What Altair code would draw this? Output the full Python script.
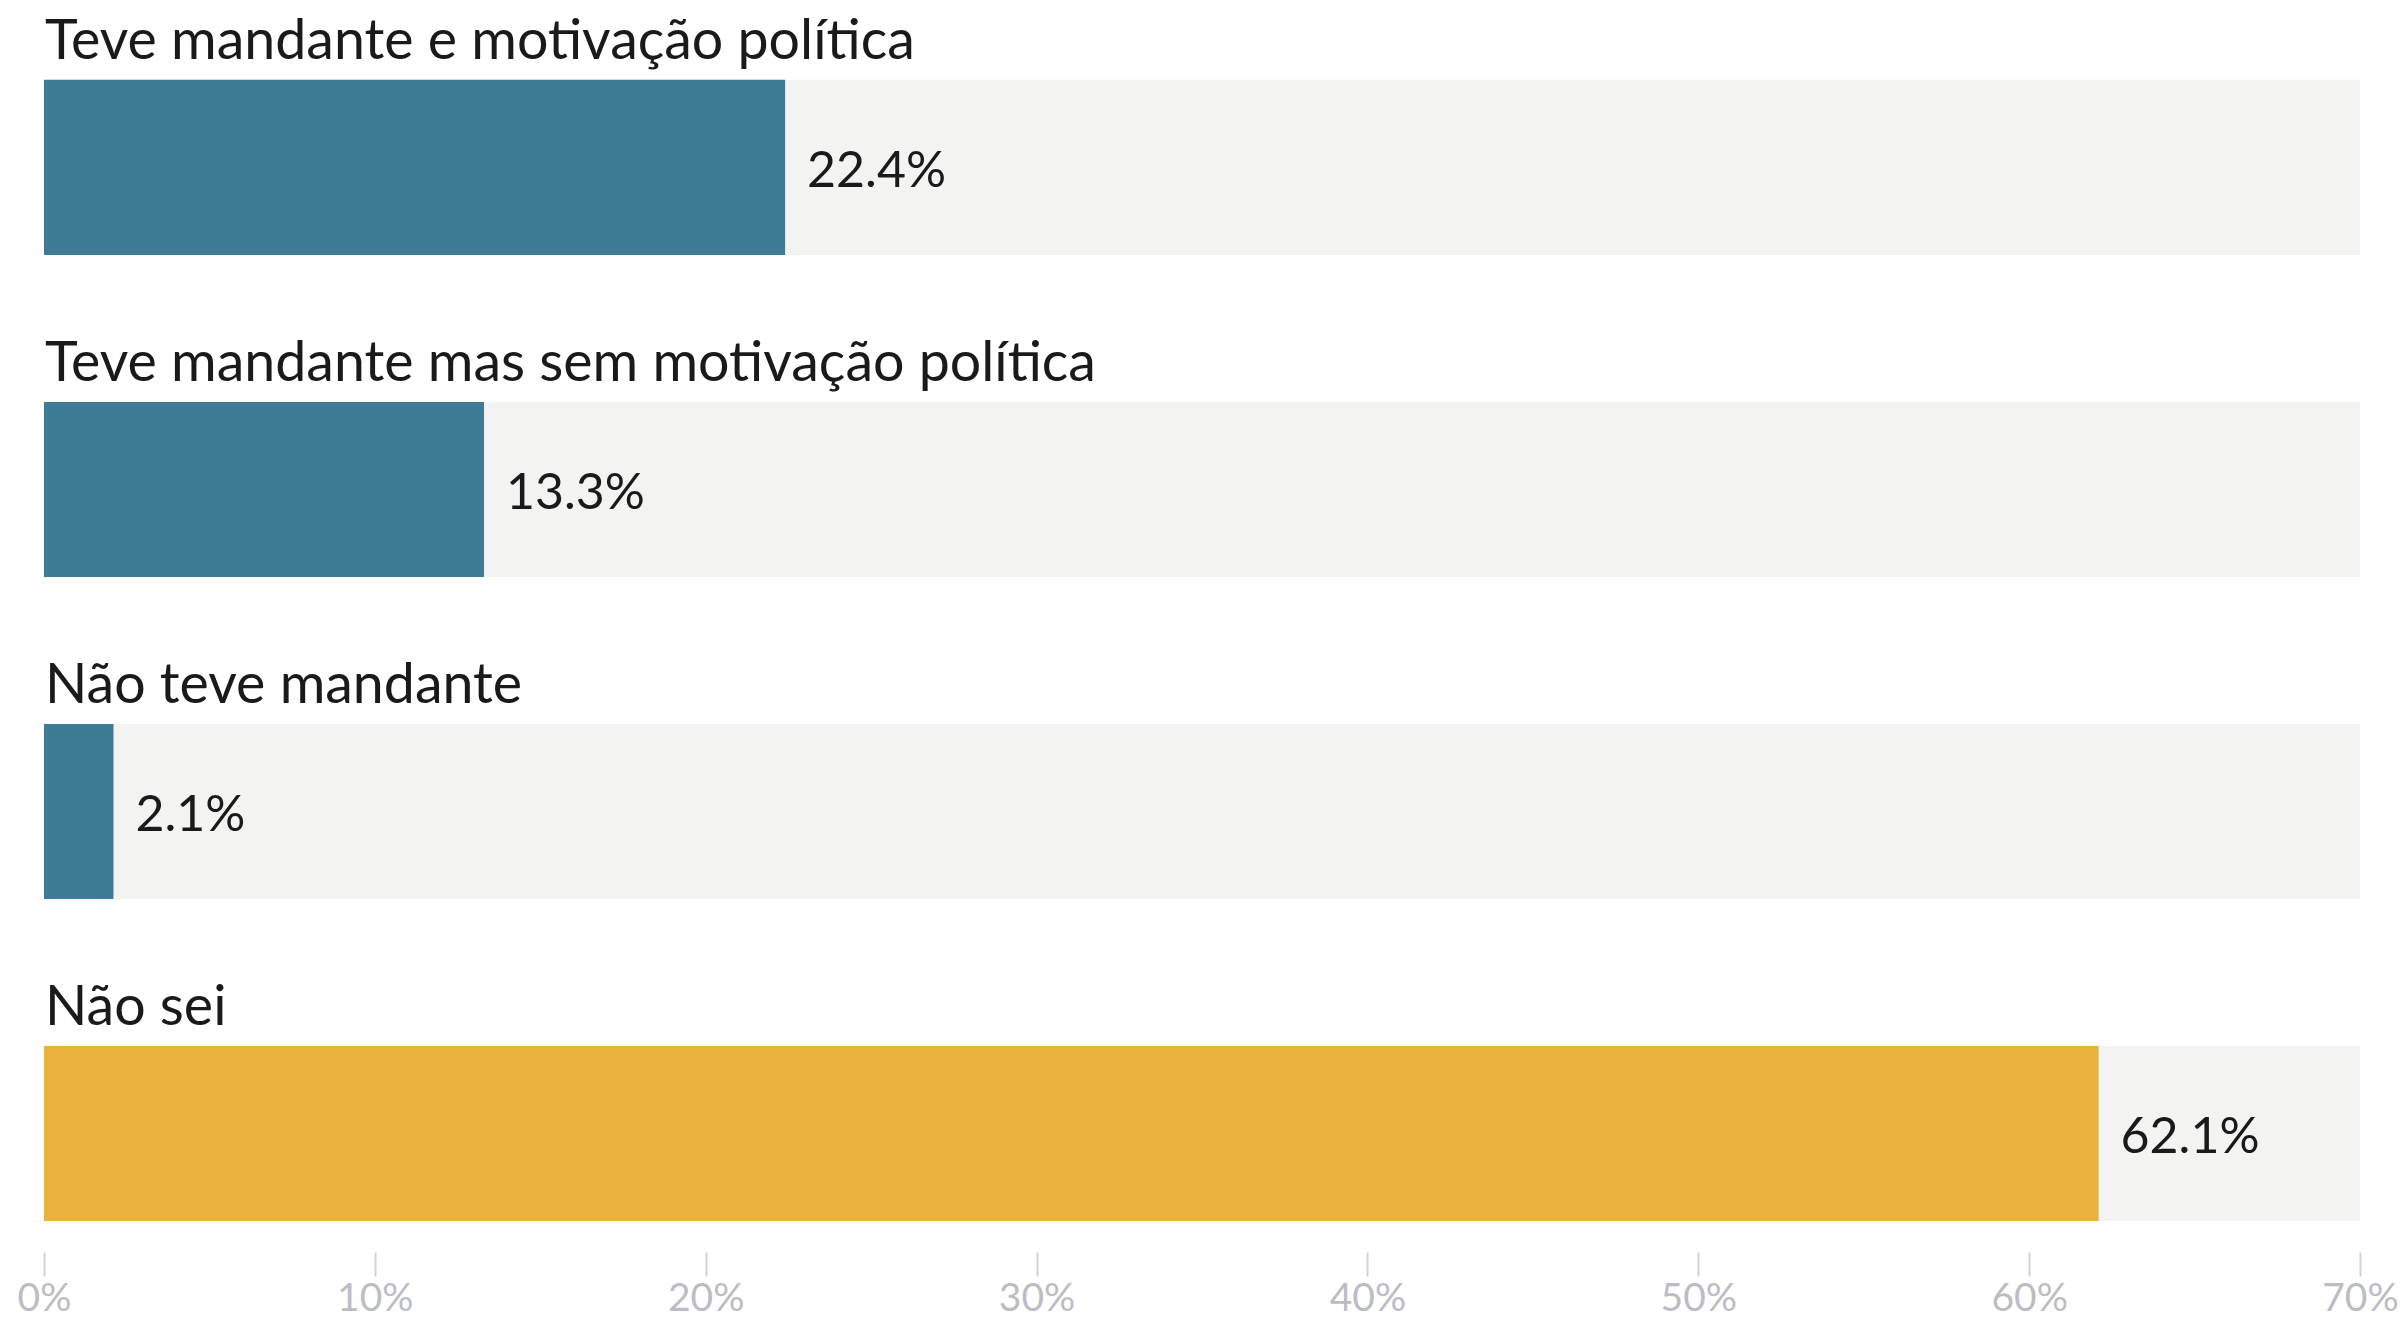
import altair as alt
import pandas as pd

categorias = [
    "Teve mandante e motivação política",
    "Teve mandante mas sem motivação política",
    "Não teve mandante",
    "Não sei",
]
valores = [22.4, 13.3, 2.1, 62.1]
rotulos = ["22.4%", "13.3%", "2.1%", "62.1%"]
eixo_ticks = [0, 10, 20, 30, 40, 50, 60, 70]
X_MAX = 70
destaque = "Não sei"

df = pd.DataFrame({
    "categoria": categorias,
    "valor": valores,
    "rotulo": rotulos,
    "fundo": [X_MAX] * len(categorias),
})

W, H = 2316, 1221
FONT = "Lato"
BLUE = "#3d7b96"
YELLOW = "#e8b23c"
BG = "#f3f3f1"

xscale = alt.Scale(domain=[0, X_MAX], nice=False, zero=True)
yscale = alt.Scale(domain=categorias, paddingInner=0.4565, paddingOuter=0.124, align=1)

y_enc = alt.Y("categoria:N", scale=yscale, axis=None, sort=categorias)

base = alt.Chart(df)

fundo = base.mark_bar(color=BG, cornerRadius=0).encode(
    x=alt.X(
        "fundo:Q",
        scale=xscale,
        axis=alt.Axis(
            values=eixo_ticks,
            labelExpr="datum.value + '%'",
            domain=False,
            grid=False,
            ticks=True,
            tickColor="#d2d3d8",
            tickWidth=2,
            tickSize=24,
            offset=31,
            labelPadding=3,
            labelFont=FONT,
            labelFontSize=39,
            labelColor="#bcbdc4",
            labelFlush=False,
            title=None,
        ),
    ),
    y=y_enc,
)

barras = base.mark_bar().encode(
    x=alt.X("valor:Q", scale=xscale),
    y=y_enc,
    color=alt.condition(alt.datum.categoria == destaque, alt.value(YELLOW), alt.value(BLUE)),
)

nomes = base.mark_text(
    align="left", baseline="alphabetic", font=FONT, fontSize=55.5, color="#1a1a1a", dx=1, dy=-108
).encode(
    x=alt.value(0),
    y=y_enc,
    text="categoria:N",
)

valores_txt = base.mark_text(
    align="left", baseline="alphabetic", font=FONT, fontSize=50, color="#1a1a1a", dx=22, dy=20
).encode(
    x=alt.X("valor:Q", scale=xscale),
    y=y_enc,
    text="rotulo:N",
)

chart = (
    alt.layer(fundo, barras, nomes, valores_txt)
    .properties(
        width=W,
        height=H,
        autosize=alt.AutoSizeParams(type="none"),
        padding={"left": 44, "top": 0, "right": 45, "bottom": 98},
        background="white",
    )
    .configure_view(stroke=None)
)

chart.save("out.html", embed_options={"renderer": "svg", "actions": False})
